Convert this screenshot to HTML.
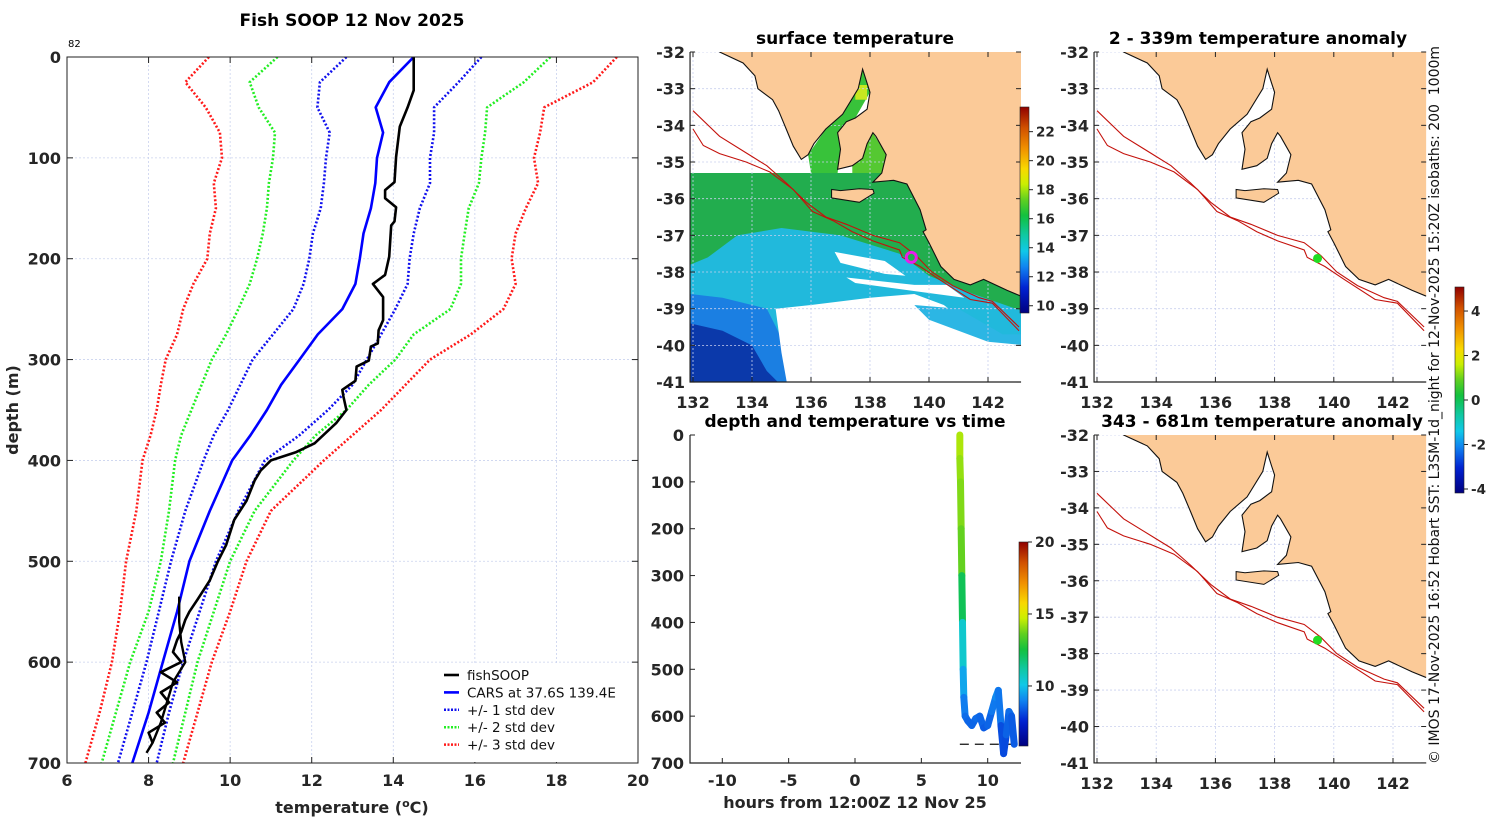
<!DOCTYPE html>
<html><head><meta charset="utf-8"><title>Fish SOOP 12 Nov 2025</title>
<style>
html,body{margin:0;padding:0;background:#fff;}
svg{display:block;font-family:"DejaVu Sans","Liberation Sans",sans-serif;}
.tk{font-weight:bold;font-size:16px;fill:#262626;}
.tt{font-weight:bold;font-size:17px;fill:#000;}
</style></head>
<body>
<svg id="fig" xmlns="http://www.w3.org/2000/svg" width="1500" height="820" viewBox="0 0 1500 820">
<rect x="0" y="0" width="1500" height="820" fill="#fff"/>
<text class="tt" x="352" y="26" text-anchor="middle">Fish SOOP 12 Nov 2025</text>
<text x="68" y="47" font-size="10" fill="#000">82</text>
<text class="tk" x="0" y="0" text-anchor="middle" transform="translate(18,410) rotate(-90)">depth (m)</text>
<text class="tk" x="352" y="813" text-anchor="middle" font-size="17">temperature (<tspan baseline-shift="super" font-size="11">o</tspan>C)</text>
<text class="tt" x="855" y="44" text-anchor="middle">surface temperature</text>
<text class="tt" x="1258" y="44" text-anchor="middle">2 - 339m temperature anomaly</text>
<text class="tt" x="855" y="427" text-anchor="middle">depth and temperature vs time</text>
<text class="tt" x="1262" y="427" text-anchor="middle">343 - 681m temperature anomaly</text>
<text class="tk" x="855" y="808" text-anchor="middle" font-size="17">hours from 12:00Z 12 Nov 25</text>
<text x="0" y="0" font-size="14" fill="#111" textLength="718" lengthAdjust="spacingAndGlyphs" transform="translate(1439,764) rotate(-90)">© IMOS 17-Nov-2025 16:52 Hobart SST: L3SM-1d_night for 12-Nov-2025 15:20Z isobaths: 200&#160; 1000m</text>
<defs id="defs"></defs>
<g id="profile"></g>
<g id="maps"></g>
<g id="timeplot"></g>
</svg>
<script>
// ---------- profile data ----------
const stdDepths = [0,25,50,75,100,125,150,175,200,225,250,275,300,325,350,375,400,450,500,550,600,650,700];
const carsTemp = [14.5,13.9,13.57,13.75,13.6,13.56,13.45,13.27,13.18,13.07,12.75,12.15,11.7,11.25,10.9,10.5,10.05,9.5,9.0,8.7,8.35,8.0,7.6];
const std1Low = [12.85,12.2,12.14,12.44,12.35,12.3,12.22,12.03,11.94,11.8,11.55,11.05,10.55,10.25,9.95,9.6,9.35,8.9,8.55,8.25,7.95,7.6,7.25];
const std1High = [16.16,15.6,15.0,15.0,14.9,14.9,14.65,14.5,14.4,14.35,14.05,13.7,13.35,13.0,12.4,11.7,10.85,10.2,9.65,9.25,8.85,8.5,8.2];
const std2Low = [11.16,10.48,10.7,11.1,11.05,10.95,10.9,10.8,10.66,10.48,10.2,9.9,9.55,9.3,9.05,8.8,8.65,8.5,8.3,8.0,7.55,7.2,6.85];
const std2High = [17.85,17.2,16.3,16.25,16.16,16.1,15.85,15.75,15.66,15.66,15.4,14.5,14.05,13.4,12.85,12.1,11.55,10.6,10.0,9.6,9.2,8.9,8.6];
const std3Low = [9.48,8.9,9.4,9.75,9.8,9.6,9.65,9.5,9.44,9.1,8.85,8.7,8.42,8.3,8.2,8.05,7.85,7.7,7.45,7.3,7.1,6.8,6.45];
const std3High = [19.48,18.9,17.7,17.6,17.45,17.55,17.25,17.0,16.9,17.0,16.7,15.9,14.9,14.3,13.7,13.0,12.3,11.0,10.4,10.0,9.55,9.2,8.85];
const fishDepth = [0,25,33,50,69,99,124,132,140,149,163,167,198,216,225,238,261,271,284,287,301,307,321,330,337,350,363,383,392,400,410,420,440,459,484,500,519,538,550,558,570,578,590,600,610,620,630,640,650,660,670,680];
const fishTemp = [14.5,14.5,14.5,14.35,14.16,14.07,14.03,13.8,13.8,14.07,14.03,13.95,13.9,13.8,13.5,13.75,13.75,13.64,13.62,13.45,13.4,13.1,13.07,12.75,12.78,12.85,12.6,12.07,11.6,11.0,10.75,10.6,10.4,10.1,9.9,9.7,9.5,9.2,9.0,8.9,8.8,8.7,8.6,8.8,8.3,8.7,8.3,8.5,8.2,8.4,8.0,8.1];
const fishUpDepth = [535,560,580,600,620,640,660,680,690];
const fishUpTemp = [8.75,8.75,8.8,8.9,8.6,8.45,8.3,8.1,7.95];
const tempTicks = [6,8,10,12,14,16,18,20];
const depthTicks = [0,100,200,300,400,500,600,700];
// ---------- time plot data ----------
const timeHours = [7.9,7.9,7.95,8.0,8.05,8.1,8.15,8.2,8.3,8.5,8.8,9.1,9.4,9.7,10.0,10.3,10.6,10.8,11.0,11.2,11.4,11.6,11.8,12.0];
const timeDepth = [0,50,100,200,300,400,500,560,600,610,620,605,600,625,620,590,560,545,620,680,640,590,600,660];
const timeTemp = [14.5,14.3,14.0,13.9,13.4,11.0,10.0,9.1,8.7,8.6,8.5,8.6,8.7,8.4,8.4,8.7,9.0,9.2,8.4,8.0,8.3,8.7,8.6,8.2];
const hourTicks = [-10,-5,0,5,10];
const timeDepthTicks = [0,100,200,300,400,500,600,700];
// ---------- map data ----------
const lonTicks = [132,134,136,138,140,142];
const latTicks = [-32,-33,-34,-35,-36,-37,-38,-39,-40,-41];
const sstBarTicks = [10,12,14,16,18,20,22];
const anomBarTicks = [-4,-2,0,2,4];
const timeBarTicks = [10,15,20];
const coastLon = [132.9,133.7,134.1,134.2,134.7,134.9,135.16,135.4,135.67,135.9,136.1,136.5,137.07,137.6,137.75,137.9,138.0,137.9,137.5,137.2,136.9,137.0,136.9,137.4,137.75,137.9,138.1,138.2,138.55,138.4,138.1,138.8,139.25,139.7,139.9,139.8,140.0,140.4,140.85,141.4,141.85,142.65,143.1];
const coastLat = [-32,-32.3,-32.65,-33.0,-33.3,-33.6,-34.1,-34.57,-34.93,-34.8,-34.5,-34.1,-33.7,-33.0,-32.47,-32.85,-33.1,-33.56,-33.8,-33.9,-34.2,-34.65,-35.2,-35.1,-34.9,-34.5,-34.2,-34.3,-34.8,-35.3,-35.55,-35.5,-35.6,-36.3,-36.85,-36.9,-37.2,-37.85,-38.2,-38.35,-38.2,-38.5,-38.65];
const islandLon = [136.7,136.7,137.64,138.14,138.1,137.64,137.0];
const islandLat = [-35.75,-35.98,-36.1,-35.85,-35.75,-35.73,-35.78];
const iso200Lon = [132,132.9,134.0,134.5,135.16,135.84,136.5,137.2,138.1,139.0,139.56,140.1,140.8,141.7,142.15,143.05];
const iso200Lat = [-33.6,-34.3,-34.85,-35.1,-35.57,-36.1,-36.5,-36.7,-37.0,-37.2,-37.55,-38.0,-38.37,-38.7,-38.8,-39.5];
const iso1000Lon = [132,132.35,132.9,133.8,134.6,135.4,136.05,136.75,137.4,138.1,139.0,139.1,139.7,140.35,141.4,142.15,143.05];
const iso1000Lat = [-34.1,-34.55,-34.77,-35.0,-35.27,-35.75,-36.35,-36.6,-36.9,-37.15,-37.4,-37.6,-37.85,-38.2,-38.75,-38.85,-39.6];
const stationLon = 139.45;
const stationLat = -37.63;

const NS = "http://www.w3.org/2000/svg";
function el(tag, attrs, parent){ const e=document.createElementNS(NS,tag); for(const k in attrs) e.setAttribute(k,attrs[k]); parent.appendChild(e); return e; }
const cmapPos=[0,0.12,0.22,0.3,0.38,0.47,0.55,0.63,0.7,0.8,0.9,1];
const cmapCol=[[0,0,127],[0,32,208],[16,128,240],[16,200,232],[16,200,160],[16,192,64],[96,208,32],[208,240,0],[248,216,0],[240,144,0],[208,80,0],[144,0,0]];
function cmap(t){ t=Math.max(0,Math.min(1,t)); let i=0; while(i<cmapPos.length-2 && t>cmapPos[i+1]) i++;
  const f=(t-cmapPos[i])/(cmapPos[i+1]-cmapPos[i]); const a=cmapCol[i],b=cmapCol[i+1];
  return "rgb("+a.map((v,k)=>Math.round(v+(b[k]-v)*f)).join(",")+")"; }
const defs = document.getElementById('defs');
const jg = el('linearGradient',{id:'jetGrad',x1:0,y1:1,x2:0,y2:0},defs);
for(let i=0;i<=40;i++){ el('stop',{offset:(i/40),'stop-color':cmap(i/40)},jg); }

// ---------- profile ----------
(function(){
  const g=document.getElementById('profile');
  const X0=67,X1=638,Y0=57,Y1=763;
  const px=T=>X0+(T-6)*(X1-X0)/14, py=d=>Y0+d*(Y1-Y0)/700;
  tempTicks.forEach(t=>{
    const l=el('line',{x1:px(t),x2:px(t),y1:Y0,y2:Y1,stroke:'#c9d2ee','stroke-width':0.8,'stroke-dasharray':'2 2'},g);
    
    
    const m=el('line',{x1:px(t),x2:px(t),y1:Y1,y2:Y1-6,stroke:'#222'},g);
    
    
    const m2=el('line',{x1:px(t),x2:px(t),y1:Y0,y2:Y0+6,stroke:'#222'},g);
    
    
    const tx=el('text',{x:px(t),y:786,'text-anchor':'middle',class:'tk'},g); tx.textContent=t;
    
    
  });
  depthTicks.forEach(d=>{
    const l=el('line',{x1:X0,x2:X1,y1:py(d),y2:py(d),stroke:'#c9d2ee','stroke-width':0.8,'stroke-dasharray':'2 2'},g);
    
    
    const m=el('line',{x1:X0,x2:X0+6,y1:py(d),y2:py(d),stroke:'#222'},g);
    
    
    const m2=el('line',{x1:X1,x2:X1-6,y1:py(d),y2:py(d),stroke:'#222'},g);
    
    
    const tx=el('text',{x:61,y:py(d)+6,'text-anchor':'end',class:'tk'},g); tx.textContent=d;
    
    
  });
  const clip=el('clipPath',{id:'profClip'},defs); el('rect',{x:X0,y:Y0,width:X1-X0,height:Y1-Y0},clip);
  const pg=el('g',{'clip-path':'url(#profClip)'},g);
  function line(ds,ts,color,dotted,w){ const pts=ds.map((d,i)=>px(ts[i]).toFixed(1)+','+py(d).toFixed(1)).join(' ');
    const p=el('polyline',{points:pts,fill:'none',stroke:color,'stroke-width':w,'stroke-linejoin':'round'},pg);
    if(dotted) p.setAttribute('stroke-dasharray','2 2'); return p; }
  let s;
  s=line(stdDepths,std3Low,'#ff1a1a',true,2.6);
  
  
  s=line(stdDepths,std3High,'#ff1a1a',true,2.6);
  
  
  s=line(stdDepths,std2Low,'#22ee22',true,2.6);
  
  
  s=line(stdDepths,std2High,'#22ee22',true,2.6);
  
  
  s=line(stdDepths,std1Low,'#1010ee',true,2.6);
  
  
  s=line(stdDepths,std1High,'#1010ee',true,2.6);
  
  
  s=line(stdDepths,carsTemp,'#0000ff',false,2.6);
  
  
  s=line(fishDepth,fishTemp,'#000',false,2.6);
  
  
  s=line(fishUpDepth,fishUpTemp,'#000',false,2.4);
  
  
  const box=el('rect',{x:X0,y:Y0,width:X1-X0,height:Y1-Y0,fill:'none',stroke:'#222','stroke-width':1},g);
  
  
  const lg=el('g',{},g);
  
  
  el('rect',{x:437,y:665,width:200,height:97,fill:'#fff'},lg);
  const labels=['fishSOOP','CARS at 37.6S 139.4E','+/- 1 std dev','+/- 2 std dev','+/- 3 std dev'];
  const cols=['#000','#0000ff','#1010ee','#22ee22','#ff1a1a'];
  labels.forEach((lab,i)=>{ const y=675+i*17.4;
    const e=el('g',{},lg);
    
    
    const ln=el('line',{x1:444,x2:459,y1:y,y2:y,stroke:cols[i],'stroke-width':i<2?2.6:2.5},e);
    if(i>=2) ln.setAttribute('stroke-dasharray','2 1.5');
    const t=el('text',{x:467,y:y+5,'font-size':13.5,fill:'#111'},e); t.textContent=lab; });
})();

// ---------- maps ----------
function drawMap(cfg){
  const g=el('g',{},document.getElementById('maps'));
  
  
  const X=lon=>cfg.lx+(lon-132)*cfg.sx, Y=lat=>cfg.ly+(-32-lat)*cfg.sy;
  const L=X(131.9),R=X(143.12),T=Y(-32),B=Y(-41);
  const cid='clip'+cfg.name; const cp=el('clipPath',{id:cid},defs); el('rect',{x:L,y:T,width:R-L,height:B-T},cp);
  const inner=el('g',{'clip-path':'url(#'+cid+')'},g);
  const poly=(lons,lats,fill,name)=>{ const p=el('polygon',{points:lons.map((v,i)=>X(v).toFixed(1)+','+Y(lats[i]).toFixed(1)).join(' '),fill:fill},inner);
    
     return p; };
  if(cfg.sst){
    poly([131.9,143.3,143.3,131.9],[-35.3,-35.3,-41.1,-41.1],'#21b9dc','sst-cyan-field');
    poly([131.9,143.3,143.3,141.5,140,139,137,135,133.5,132.5,131.9],[-35.3,-35.3,-39.1,-38.6,-38.1,-37.5,-37.0,-36.8,-37.0,-37.6,-37.8],'#22ad4e','sst-green-field');
    poly([135.9,136.5,137.07,137.6,137.75,137.9,138,137.5,136.9,137.0,136.9,136.0],[-34.8,-34.1,-33.7,-33.0,-32.5,-32.85,-33.1,-33.8,-34.2,-34.65,-35.3,-35.3],'#38c23a','sst-spencer-gulf');
    poly([137.5,137.9,137.9,137.5],[-32.9,-32.9,-33.3,-33.3],'#c8e820','sst-gulf-warm');
    poly([137.4,137.9,138.1,138.55,138.4,137.4],[-35.1,-34.5,-34.2,-34.8,-35.3,-35.3],'#55c832','sst-st-vincent-gulf');
    poly([131.9,133,134.5,135,135.5,131.9],[-38.6,-38.7,-39.0,-39.8,-41.1,-41.1],'#1b7fe2','sst-blue-field');
    poly([131.9,133,134,134.5,135,131.9],[-39.4,-39.6,-40.0,-40.7,-41.1,-41.1],'#0b39aa','sst-darkblue-field');
    poly([134.8,136,138,139.5,140.5,141,142,143.3,143.3,135.2,135],[-39.0,-38.9,-38.7,-38.6,-38.9,-39.2,-39.8,-40.0,-41.1,-41.1,-40.2],'#ffffff','sst-cloud-mask');
    poly([139.5,141,142.5,143.3,143.3,142,140],[-38.9,-39.0,-39.7,-39.7,-40.0,-39.9,-39.3],'#2cb6e4','sst-cyan-streak');
    poly([136.8,138.5,139.2,138.5,137],[-37.45,-37.7,-38.1,-38.05,-37.75],'#ffffff','sst-cloud-streak');
    poly([137.2,139.5,140.6,141.2,139.8,137.5],[-38.15,-38.35,-38.35,-38.7,-38.55,-38.3],'#ffffff','sst-cloud-streak');
  }
  const grid=el('g',{},inner);
  lonTicks.forEach(lo=>el('line',{x1:X(lo),x2:X(lo),y1:T,y2:B,stroke:'#c9d0ee','stroke-width':0.8,'stroke-dasharray':'2 2'},grid));
  latTicks.forEach(la=>el('line',{x1:L,x2:R,y1:Y(la),y2:Y(la),stroke:'#c9d0ee','stroke-width':0.8,'stroke-dasharray':'2 2'},grid));
  const land=poly(coastLon.concat([143.4,143.4,132.9]),coastLat.concat([-38.65,-31.8,-31.8]),'#fbca98','land');
  land.setAttribute('stroke','#111'); land.setAttribute('stroke-width','1.1');
  const isl=poly(islandLon,islandLat,'#fbca98','kangaroo-island');
  isl.setAttribute('stroke','#111'); isl.setAttribute('stroke-width','1');
  const iso=(lons,lats,name)=>{ const p=el('polyline',{points:lons.map((v,i)=>X(v).toFixed(1)+','+Y(lats[i]).toFixed(1)).join(' '),fill:'none',stroke:'#c4120c','stroke-width':1.1},inner);
    
     };
  iso(iso200Lon,iso200Lat,'isobath-200m');
  iso(iso1000Lon,iso1000Lat,'isobath-1000m');
  if(cfg.sst){ const c=el('circle',{cx:X(stationLon-0.05),cy:Y(stationLat+0.03),r:5,fill:'none',stroke:'#e81ee8','stroke-width':3},inner);
    
     }
  else { const c=el('circle',{cx:X(stationLon),cy:Y(stationLat),r:4.5,fill:'#22dd22'},inner);
    
     }
  const ax=el('path',{d:'M'+L+','+T+'V'+B+'H'+R,fill:'none',stroke:'#222','stroke-width':1.2},g);
  
  
  lonTicks.forEach(lo=>{ el('line',{x1:X(lo),x2:X(lo),y1:B,y2:B-5,stroke:'#222'},g); el('line',{x1:X(lo),x2:X(lo),y1:T,y2:T+5,stroke:'#222'},g);
    const t=el('text',{x:X(lo),y:B+26,'text-anchor':'middle',class:'tk'},g); t.textContent=lo;
    
     });
  latTicks.forEach(la=>{ el('line',{x1:L,x2:L+5,y1:Y(la),y2:Y(la),stroke:'#222'},g); el('line',{x1:R,x2:R-5,y1:Y(la),y2:Y(la),stroke:'#222'},g);
    const t=el('text',{x:L-5,y:Y(la)+6,'text-anchor':'end',class:'tk'},g); t.textContent=la;
    
     });
}
drawMap({name:'sst-map',lx:693,ly:52,sx:29.5,sy:36.67,sst:true});
drawMap({name:'anomaly-map-shallow',lx:1097,ly:52,sx:29.6,sy:36.67,sst:false});
drawMap({name:'anomaly-map-deep',lx:1097,ly:435,sx:29.6,sy:36.44,sst:false});

// ---------- colorbars ----------
function colorbar(name,x,y0,y1,vmin,vmax,ticks,fs){
  const g=el('g',{},document.getElementById('maps'));
  
  
  el('rect',{x:x,y:y0,width:9,height:y1-y0,fill:'url(#jetGrad)',stroke:'#222','stroke-width':0.6},g);
  ticks.forEach(v=>{ const y=y1-(v-vmin)/(vmax-vmin)*(y1-y0);
    el('line',{x1:x+9,x2:x+13,y1:y,y2:y,stroke:'#222'},g);
    const t=el('text',{x:x+16,y:y+5,'font-weight':'bold','font-size':fs,fill:'#262626'},g); t.textContent=v; });
}
colorbar('sst-colorbar',1020,107,313,9.5,23.7,sstBarTicks,13.5);
colorbar('anomaly-colorbar',1455,287,493,-4.18,5.08,anomBarTicks,13.5);
colorbar('time-colorbar',1019,542,746,5.83,20,timeBarTicks,14);

// ---------- time plot ----------
(function(){
  const g=document.getElementById('timeplot');
  const X=h=>855+h*13.27, Y=d=>435+d*328/700;
  const ax=el('path',{d:'M690,435V763H1021',fill:'none',stroke:'#222','stroke-width':1.2},g);
  
  
  hourTicks.forEach(h=>{ el('line',{x1:X(h),x2:X(h),y1:763,y2:758,stroke:'#222'},g);
    const t=el('text',{x:X(h),y:786,'text-anchor':'middle',class:'tk'},g); t.textContent=h;
    
     });
  timeDepthTicks.forEach(d=>{ el('line',{x1:690,x2:695,y1:Y(d),y2:Y(d),stroke:'#222'},g);
    const t=el('text',{x:684,y:Y(d)+6,'text-anchor':'end',class:'tk'},g); t.textContent=d;
    
     });
  const dl=el('line',{x1:X(7.9),x2:X(12.2),y1:Y(660),y2:Y(660),stroke:'#111','stroke-width':1.2,'stroke-dasharray':'9 6'},g);
  
  
  for(let i=0;i<timeHours.length-1;i++){
    const tm=(timeTemp[i]+timeTemp[i+1])/2;
    const s=el('line',{x1:X(timeHours[i]),y1:Y(timeDepth[i]),x2:X(timeHours[i+1]),y2:Y(timeDepth[i+1]),stroke:cmap((tm-5.83)/14.17),'stroke-width':7,'stroke-linecap':'round'},g);
    
    
  }
})();
</script>
</body></html>
